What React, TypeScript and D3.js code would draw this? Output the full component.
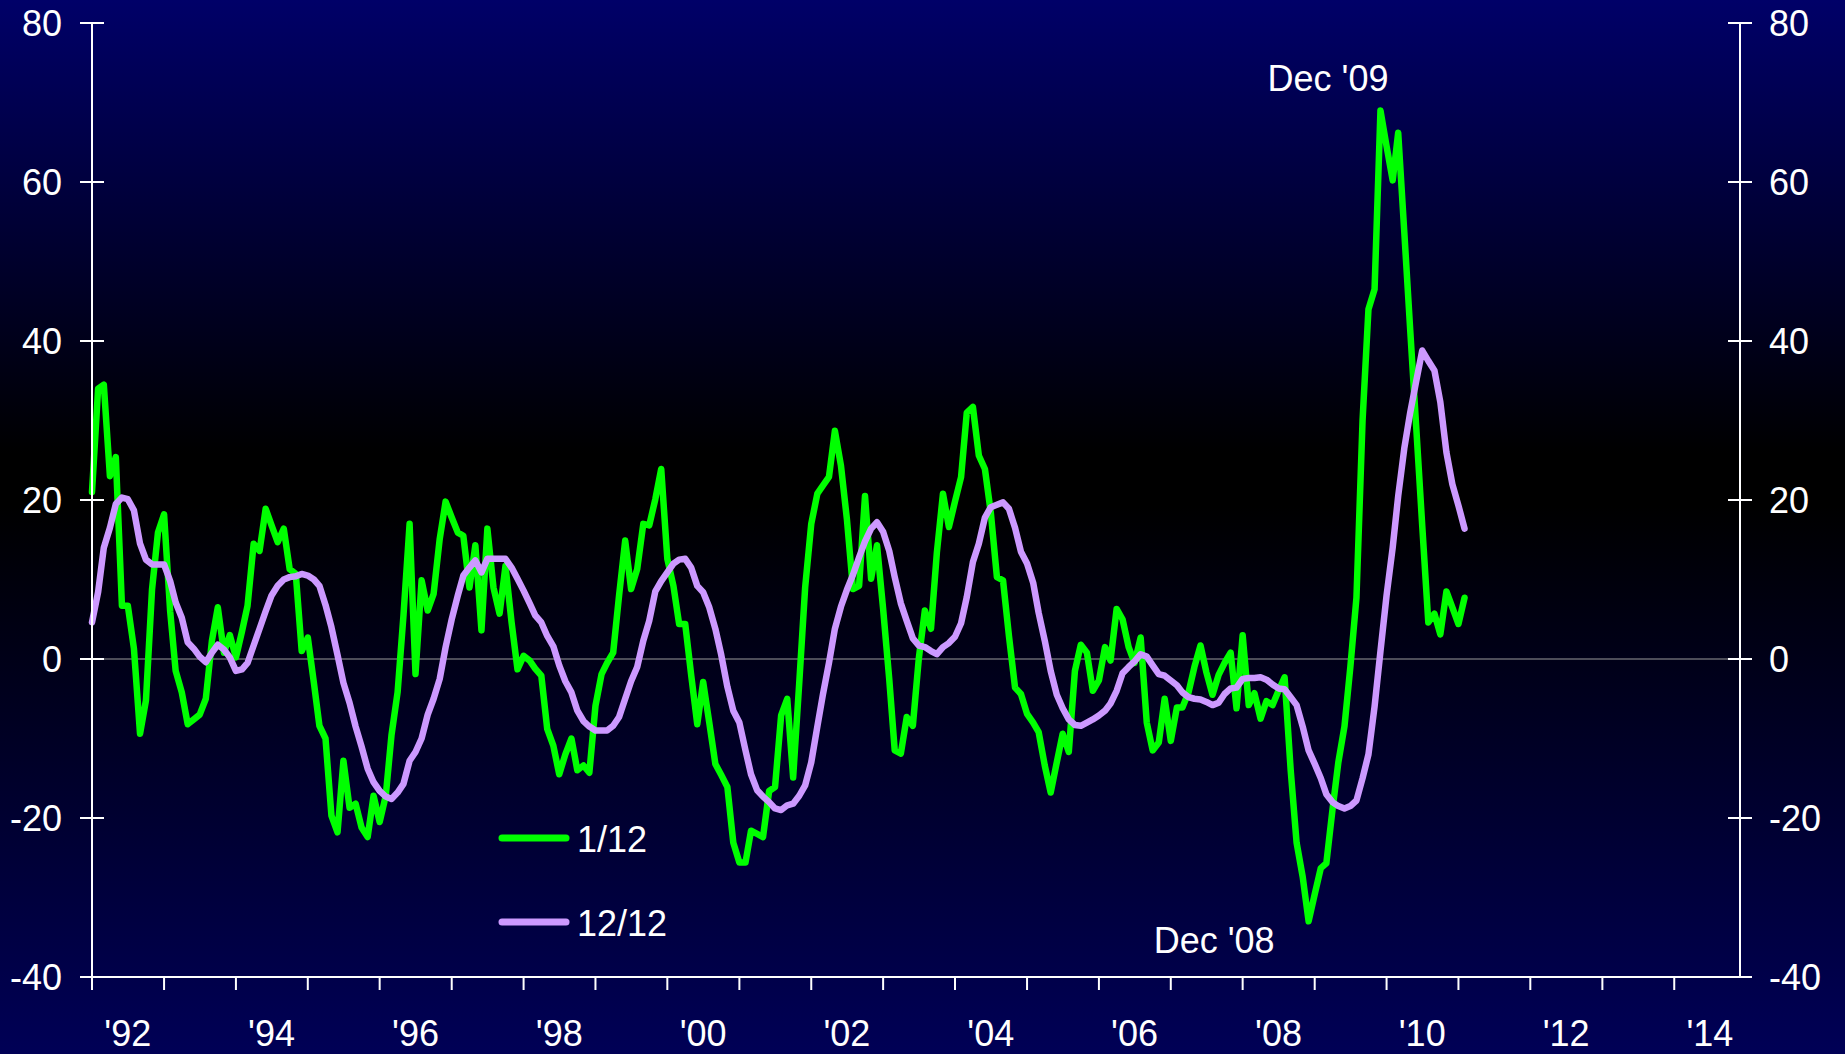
import React from "react";
import * as d3 from "d3";

// Monthly series starting January 1992
const START_YEAR = 1992;

const oneMonth: number[] = [
  21, 34, 34.5, 23, 25.4, 6.7, 6.7, 1.3, -9.4, -5.2, 8.8, 15.9,
  18.2, 6, -1.5, -4.2, -8.2, -7.6, -7, -5, 2.3, 6.5, 0.8, 3,
  0.2, 3.5, 6.7, 14.5, 13.6, 18.9, 16.8, 14.7, 16.4, 11.3, 10.7, 1,
  2.7, -3, -8.4, -10, -19.7, -21.8, -12.8, -18.7, -18.2, -21.2, -22.4, -17.2,
  -20.5, -17.2, -9.6, -4.2, 5.5, 17, -1.9, 9.9, 6.1, 8.2, 15.1, 19.8,
  17.8, 15.9, 15.5, 9, 14.3, 3.6, 16.4, 9, 5.7, 11.7, 4.6, -1.3,
  0.4, -0.2, -1.2, -2.1, -8.8, -10.9, -14.5, -12, -10, -14, -13.4, -14.3,
  -5.9, -1.9, -0.5, 0.8, 8, 14.9, 8.8, 11.3, 17, 16.8, 20.1, 23.9,
  12.6, 9.2, 4.4, 4.4, -2, -8.2, -2.9, -8, -13.2, -14.6, -16.1, -23.1,
  -25.6, -25.6, -21.6, -22, -22.4, -16.6, -16.1, -7.1, -5, -14.9, -3, 9,
  17, 20.8, 21.8, 22.9, 28.7, 24.3, 17.6, 8.8, 9.2, 20.5, 10.1, 14.3,
  6.3, -2.5, -11.5, -11.9, -7.3, -8.4, 0, 6.1, 3.8, 13.4, 20.8, 16.6,
  19.8, 22.9, 31, 31.7, 25.6, 23.9, 18.4, 10.3, 9.9, 2.9, -3.6, -4.4,
  -6.9, -8, -9.2, -13.4, -16.8, -13, -9.4, -11.7, -1.5, 1.8, 0.8, -4,
  -2.7, 1.5, -0.2, 6.3, 5, 1.5, -0.5, 2.7, -8, -11.5, -10.5, -5,
  -10.3, -6.1, -6.1, -4.2, -1, 1.7, -1.7, -4.5, -2, -0.5, 0.8, -6.2,
  3, -5.8, -4.3, -7.5, -5.3, -5.8, -4, -2.3, -14, -23.1, -27.4, -33,
  -29.6, -26.3, -25.7, -19, -13, -8.5, -1, 7.7, 30, 44, 46.5, 69,
  64.5, 60.2, 66.2, 53.7, 41.4, 29, 16.8, 4.6, 5.7, 3.1, 8.5, 6.5,
  4.4, 7.7,
];

const twelveMonth: number[] = [
  4.6, 8.4, 14, 16.5, 19.5, 20.3, 20.1, 18.7, 14.5, 12.5, 11.9, 11.9,
  11.9, 9.8, 7.1, 5.2, 2.1, 1.3, 0.3, -0.4, 0.8, 1.8, 1.2, 0.2,
  -1.5, -1.3, -0.5, 1.7, 3.8, 6, 8, 9.2, 10, 10.3, 10.4, 10.7,
  10.5, 10, 9.2, 6.8, 4, 0.5, -3, -5.5, -8.5, -11, -13.8, -15.5,
  -16.6, -17.3, -17.6, -16.8, -15.7, -12.8, -11.7, -10, -7, -5, -2.5, 1.5,
  5, 8, 10.5, 11.5, 12.4, 10.9, 12.6, 12.6, 12.6, 12.6, 11.5, 10.1,
  8.6, 7, 5.5, 4.6, 2.9, 1.6, -0.8, -2.8, -4.2, -6.5, -7.8, -8.5,
  -9, -9, -9, -8.4, -7.3, -5, -2.8, -1, 2.3, 4.8, 8.5, 9.8,
  10.9, 12, 12.5, 12.6, 11.5, 9.2, 8.4, 6.5, 3.8, 0.5, -3.5, -6.5,
  -8, -11.5, -14.5, -16.5, -17.3, -18, -18.8, -19, -18.4, -18.2, -17.2, -15.9,
  -13, -8.5, -4.5, -0.5, 3.8, 6.6, 8.7, 10.6, 12.8, 14.8, 16.4, 17.2,
  16, 13.6, 10.3, 7, 4.8, 2.6, 1.7, 1.5, 1, 0.6, 1.5, 2,
  2.8, 4.5, 7.8, 12.2, 14.5, 17.8, 19.1, 19.4, 19.7, 18.9, 16.5, 13.5,
  12, 9.6, 5.8, 2.3, -1.5, -4.5, -6.2, -7.6, -8.3, -8.4, -8, -7.6,
  -7.1, -6.5, -5.6, -4, -1.8, -1, -0.3, 0.6, 0.3, -0.8, -1.9, -2.1,
  -2.7, -3.3, -4.2, -4.8, -5, -5.1, -5.4, -5.8, -5.5, -4.4, -3.7, -3.6,
  -2.5, -2.4, -2.4, -2.3, -2.6, -3.2, -3.7, -3.8, -4.8, -5.8, -8.5, -11.5,
  -13.2, -15, -17, -18, -18.5, -18.8, -18.5, -17.8, -15, -12, -6, 1,
  8, 14, 20.5, 26.5, 31, 35, 38.8, 37.5, 36.3, 32.3, 26, 22,
  19.3, 16.4,
];

const yTickValues: number[] = [-40, -20, 0, 20, 40, 60, 80];
const xLabelYears: number[] = [1992, 1994, 1996, 1998, 2000, 2002, 2004, 2006, 2008, 2010, 2012, 2014];
const seriesNames: string[] = ["1/12", "12/12"];
const annotations = [
  { text: "Dec '09", year: 2009, month: 11 },
  { text: "Dec '08", year: 2008, month: 11 },
];

const W = 1845;
const H = 1054;
const GREEN = "#00ff00";
const LAVENDER = "#cc99ff";
const FONT = "'Liberation Sans', Arial, Helvetica, sans-serif";

export default function App() {
  const x = d3
    .scaleTime()
    .domain([new Date(1992, 0, 1), new Date(2014, 11, 1)])
    .range([92, 1740]);
  const y = d3.scaleLinear().domain([-40, 80]).range([977, 23]);

  const toPts = (arr: number[]) =>
    arr.map((v, i) => ({ d: new Date(START_YEAR, i, 1), v }));

  const line = d3
    .line<{ d: Date; v: number }>()
    .x((p) => x(p.d))
    .y((p) => y(p.v));

  const yearTicks = d3.timeYear.range(new Date(1992, 0, 1), new Date(2014, 1, 1));

  const left = x.range()[0];
  const right = x.range()[1];
  const bottom = y(-40);
  const top = y(80);

  const dec09 = annotations[0];
  const dec08 = annotations[1];
  const peakVal = d3.max(oneMonth) as number;
  const troughVal = d3.min(oneMonth) as number;

  return (
    <svg
      width={W}
      height={H}
      style={{ position: "absolute", left: 0, top: 0, display: "block" }}
      fontFamily={FONT}
    >
      <defs>
        <linearGradient id="bg" x1="0" y1="0" x2="0" y2="1">
          <stop offset="0" stopColor="rgb(0,0,104)" />
          <stop offset="0.43" stopColor="rgb(0,0,0)" />
          <stop offset="0.48" stopColor="rgb(0,0,0)" />
          <stop offset="1" stopColor="rgb(0,0,86)" />
        </linearGradient>
      </defs>
      <rect x={0} y={0} width={W} height={H} fill="url(#bg)" />

      {/* zero line */}
      <line x1={left} x2={right} y1={y(0)} y2={y(0)} stroke="#9a9a9a" strokeWidth={1.2} />

      {/* series */}
      <path
        d={line(toPts(oneMonth)) || ""}
        fill="none"
        stroke={GREEN}
        strokeWidth={6.5}
        strokeLinejoin="round"
        strokeLinecap="round"
      />
      <path
        d={line(toPts(twelveMonth)) || ""}
        fill="none"
        stroke={LAVENDER}
        strokeWidth={6.5}
        strokeLinejoin="round"
        strokeLinecap="round"
      />

      {/* axes */}
      <g stroke="#ffffff" strokeWidth={2}>
        <line x1={left} x2={left} y1={top} y2={bottom + 13} />
        <line x1={right} x2={right} y1={top} y2={bottom} />
        <line x1={left - 12} x2={right + 12} y1={bottom} y2={bottom} />
        {yTickValues.map((t) => (
          <g key={"yt" + t}>
            <line x1={left - 12} x2={left + 12} y1={y(t)} y2={y(t)} />
            <line x1={right - 12} x2={right + 12} y1={y(t)} y2={y(t)} />
          </g>
        ))}
        {yearTicks.map((d) => (
          <line key={"xt" + d.getFullYear()} x1={x(d)} x2={x(d)} y1={bottom} y2={bottom + 13} />
        ))}
      </g>

      <g fill="#ffffff" fontSize={36}>
        {yTickValues.map((t) => (
          <g key={"yl" + t}>
            <text x={62} y={y(t)} dy="0.36em" textAnchor="end">
              {String(t)}
            </text>
            <text x={1769} y={y(t)} dy="0.36em" textAnchor="start">
              {String(t)}
            </text>
          </g>
        ))}
        {xLabelYears.map((yr) => (
          <text key={"xl" + yr} x={x(new Date(yr, 6, 1))} y={1046} textAnchor="middle">
            {"'" + String(yr % 100).padStart(2, "0")}
          </text>
        ))}
      </g>

      {/* annotations */}
      <g fill="#ffffff" fontSize={36}>
        <text x={x(new Date(dec09.year, dec09.month, 1)) + 8} y={y(peakVal) - 19} textAnchor="end">
          {dec09.text}
        </text>
        <text x={x(new Date(dec08.year, dec08.month, 1)) - 34} y={y(troughVal) + 32} textAnchor="end">
          {dec08.text}
        </text>
      </g>

      {/* legend */}
      <g fontSize={36} fill="#ffffff">
        <line x1={502} x2={566} y1={838} y2={838} stroke={GREEN} strokeWidth={7} strokeLinecap="round" />
        <text x={577} y={852}>{seriesNames[0]}</text>
        <line x1={502} x2={566} y1={922} y2={922} stroke={LAVENDER} strokeWidth={7} strokeLinecap="round" />
        <text x={577} y={936}>{seriesNames[1]}</text>
      </g>
    </svg>
  );
}
